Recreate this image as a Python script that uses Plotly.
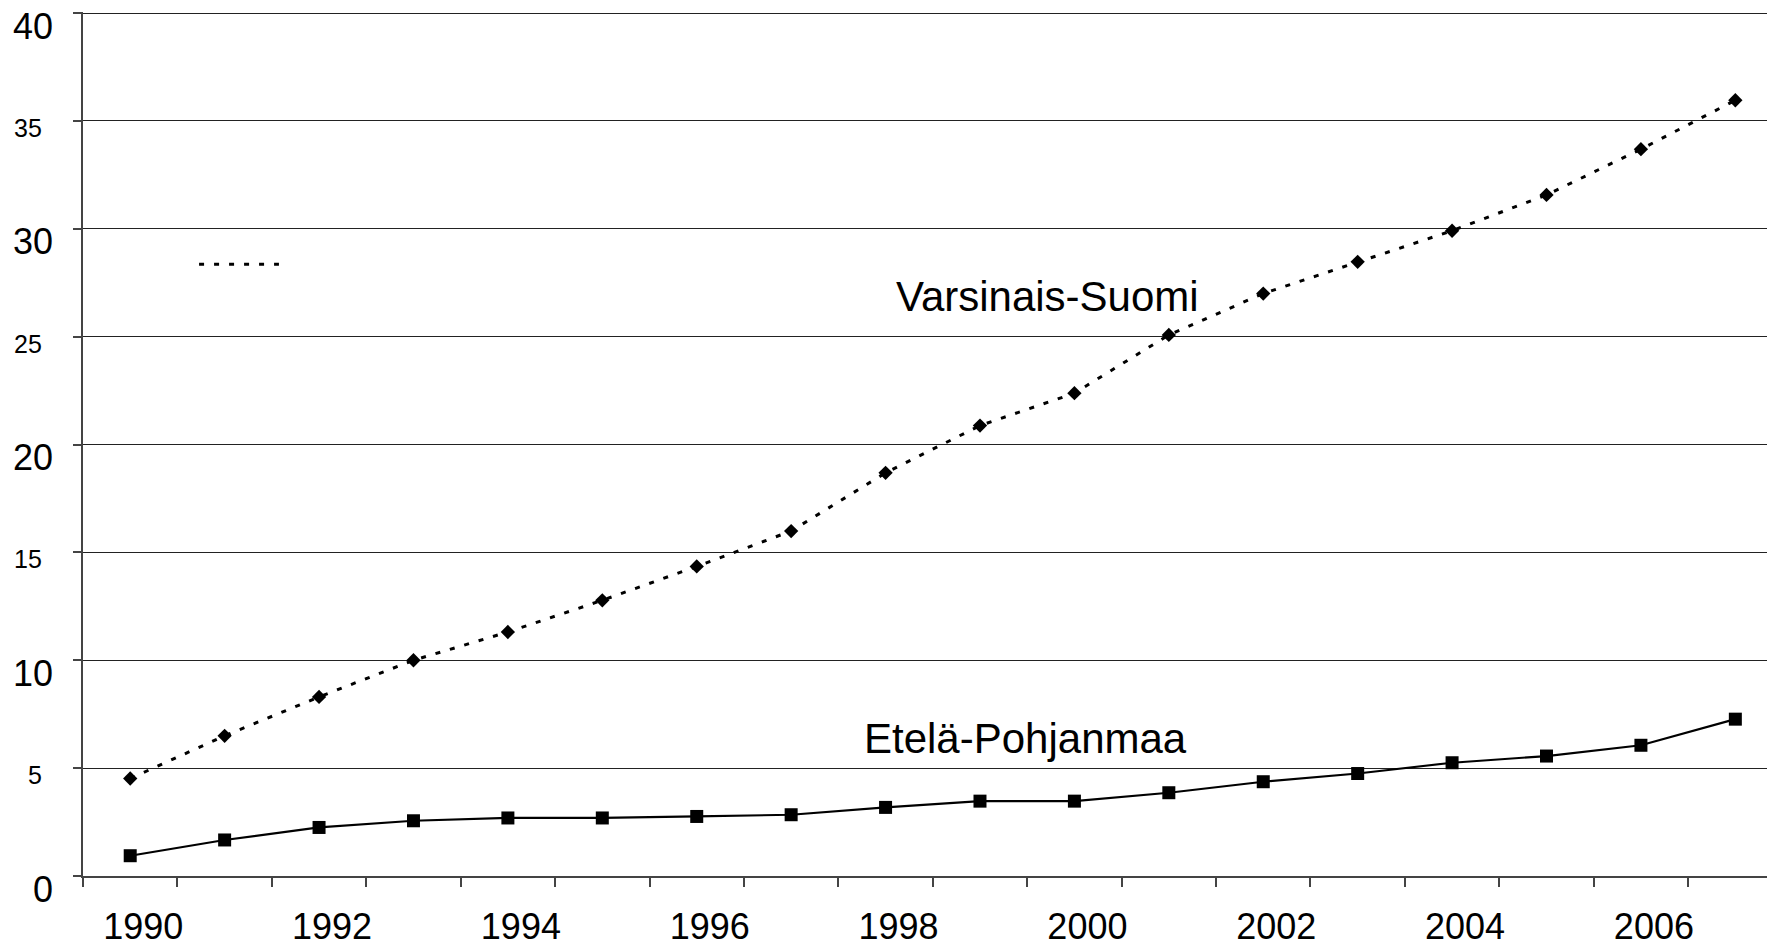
import plotly.graph_objects as go

years = list(range(1990, 2008))
varsinais_suomi = [4.52, 6.50, 8.30, 10.0, 11.31, 12.78, 14.35, 15.99, 18.69, 20.88,
                   22.38, 25.08, 27.0, 28.47, 29.91, 31.57, 33.69, 35.96]
etela_pohjanmaa = [0.94, 1.67, 2.25, 2.56, 2.69, 2.69, 2.76, 2.84, 3.18, 3.47,
                   3.47, 3.86, 4.37, 4.75, 5.25, 5.56, 6.06, 7.27]
x_tick_years = list(range(1990, 2007, 2))
x_tick_labels = [str(y) for y in x_tick_years]
y_tick_values = list(range(0, 45, 5))
y_tick_labels = [str(v) for v in y_tick_values]

FONT = "Arial, Liberation Sans, sans-serif"

fig = go.Figure()
fig.add_trace(go.Scatter(
    x=years, y=varsinais_suomi, mode="lines+markers", name="Varsinais-Suomi",
    line=dict(color="black", width=3, dash="5px,10px"),
    marker=dict(symbol="diamond", size=11, color="black"),
))
fig.add_trace(go.Scatter(
    x=years, y=etela_pohjanmaa, mode="lines+markers", name="Etelä-Pohjanmaa",
    line=dict(color="black", width=2.2),
    marker=dict(symbol="square", size=13, color="black"),
))

annotations = []
for v, t in zip(y_tick_values, y_tick_labels):
    big = (v % 10 == 0)
    annotations.append(dict(
        x=0, xref="paper", y=v, yref="y", text=t, showarrow=False,
        xanchor="right", yanchor="middle",
        xshift=-28 if big else -39, yshift=-13 if big else -7,
        font=dict(family=FONT, size=36 if big else 25, color="black"),
    ))
annotations.append(dict(x=1999.71, y=26.85, xref="x", yref="y", text="Varsinais-Suomi",
                        showarrow=False, font=dict(family=FONT, size=42, color="black")))
annotations.append(dict(x=1999.48, y=6.39, xref="x", yref="y", text="Etelä-Pohjanmaa",
                        showarrow=False, font=dict(family=FONT, size=42, color="black")))

fig.update_layout(
    width=1767, height=937,
    margin=dict(l=75, r=0, t=4, b=69),
    paper_bgcolor="white", plot_bgcolor="white",
    showlegend=False,
    annotations=annotations,
    shapes=[dict(type="line", xref="paper", yref="paper", x0=0.0686, x1=0.1158,
                 y0=0.708, y1=0.708, line=dict(color="black", width=3, dash="5px,10px"))],
    xaxis=dict(
        range=[1989.5, 2007.42], showgrid=False, zeroline=False, automargin=False,
        tickmode="array", tickvals=x_tick_years, ticktext=x_tick_labels,
        ticks="", ticklabelshift=13, ticklabelstandoff=18,
        tickfont=dict(family=FONT, size=36, color="black"),
        showline=True, linecolor="#444", linewidth=2,
        minor=dict(tickmode="array", tickvals=[y - 0.5 for y in years] + [2007.5],
                   ticks="outside", ticklen=9, tickwidth=1.5, tickcolor="#444", showgrid=False),
    ),
    yaxis=dict(
        range=[0, 40.05], tickmode="array", tickvals=y_tick_values, automargin=False,
        showticklabels=False, ticks="outside", ticklen=8, tickwidth=1.5, tickcolor="#444",
        showgrid=True, gridcolor="#222", gridwidth=1, zeroline=False,
        showline=True, linecolor="#444", linewidth=2,
    ),
)

fig.write_html("out.html")
